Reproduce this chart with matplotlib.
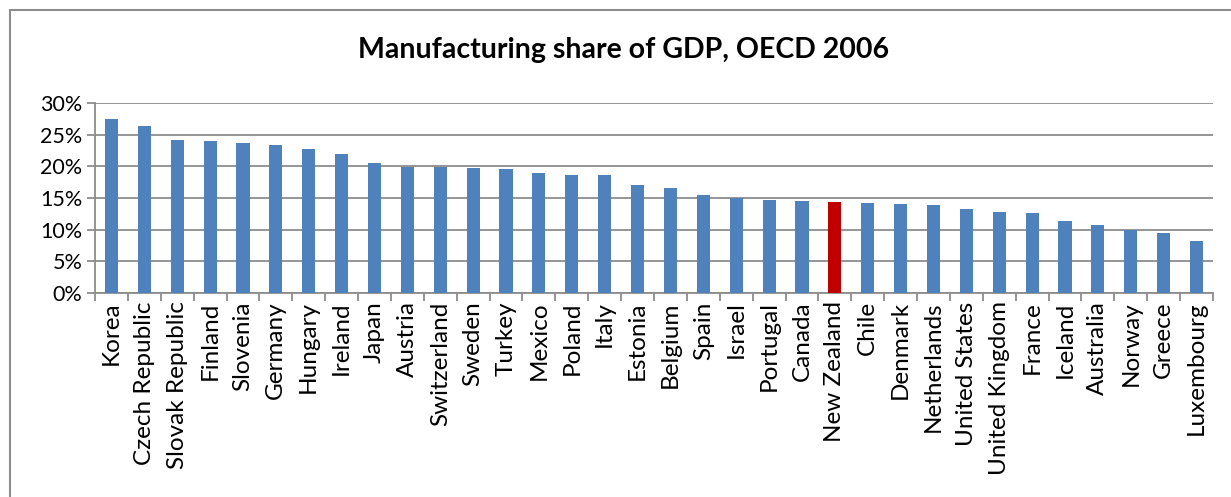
import matplotlib.pyplot as plt
from matplotlib.patches import Rectangle

countries = ['Korea', 'Czech Republic', 'Slovak Republic', 'Finland', 'Slovenia', 'Germany',
             'Hungary', 'Ireland', 'Japan', 'Austria', 'Switzerland', 'Sweden', 'Turkey',
             'Mexico', 'Poland', 'Italy', 'Estonia', 'Belgium', 'Spain', 'Israel', 'Portugal',
             'Canada', 'New Zealand', 'Chile', 'Denmark', 'Netherlands', 'United States',
             'United Kingdom', 'France', 'Iceland', 'Australia', 'Norway', 'Greece', 'Luxembourg']
share = [27.4, 26.3, 24.1, 24.05, 23.7, 23.3, 22.7, 21.9, 20.5, 19.95, 19.85, 19.7, 19.5,
         18.9, 18.7, 18.6, 17.0, 16.6, 15.5, 14.95, 14.7, 14.6, 14.4, 14.2, 14.1, 13.9,
         13.3, 12.8, 12.6, 11.4, 10.7, 10.0, 9.5, 8.2]
highlight = 'New Zealand'

plt.rcParams['font.family'] = ['Lato', 'DejaVu Sans']

fig = plt.figure(figsize=(12.31, 4.97), dpi=100)
fig.patches.append(Rectangle((10 / 1231, -0.1), 1.2, 1 - 10 / 497 + 0.1,
                             transform=fig.transFigure, fill=False,
                             edgecolor='#8c8c8c', linewidth=1.5))
ax = fig.add_axes([95 / 1231, 1 - 293 / 497, 1118 / 1231, 190 / 497])

colors = ['#c00000' if c == highlight else '#4f81bd' for c in countries]
x = range(len(countries))
ax.bar(x, share, width=0.4, color=colors, zorder=3)

ax.set_xlim(-0.5, len(countries) - 0.5)
ax.set_ylim(0, 30)
ax.set_yticks(range(0, 31, 5))
ax.set_yticklabels([f'{v}%' for v in range(0, 31, 5)], fontsize=15.5)
ax.yaxis.grid(True, color='#8c8c8c', linewidth=1.3, zorder=0)

ax.set_xticks([i + 0.5 for i in range(-1, len(countries))], minor=False)
ax.set_xticklabels([])
ax.tick_params(axis='x', length=6, color='#8c8c8c', width=1.3)
ax.set_xticks(list(x), minor=True)
ax.set_xticklabels(countries, minor=True, rotation=90, fontsize=17.5)
ax.tick_params(axis='x', which='minor', length=0, pad=6)
ax.tick_params(axis='y', length=6, color='#8c8c8c', width=1.3, pad=3)

for side in ['top', 'right']:
    ax.spines[side].set_visible(False)
for side in ['left', 'bottom']:
    ax.spines[side].set_color('#8c8c8c')
    ax.spines[side].set_linewidth(1.3)

fig.text(624 / 1231, 1 - 50 / 497, 'Manufacturing share of GDP, OECD 2006',
         ha='center', va='center', fontsize=20.5, fontweight='bold')

fig.savefig('out.png', dpi=100)
